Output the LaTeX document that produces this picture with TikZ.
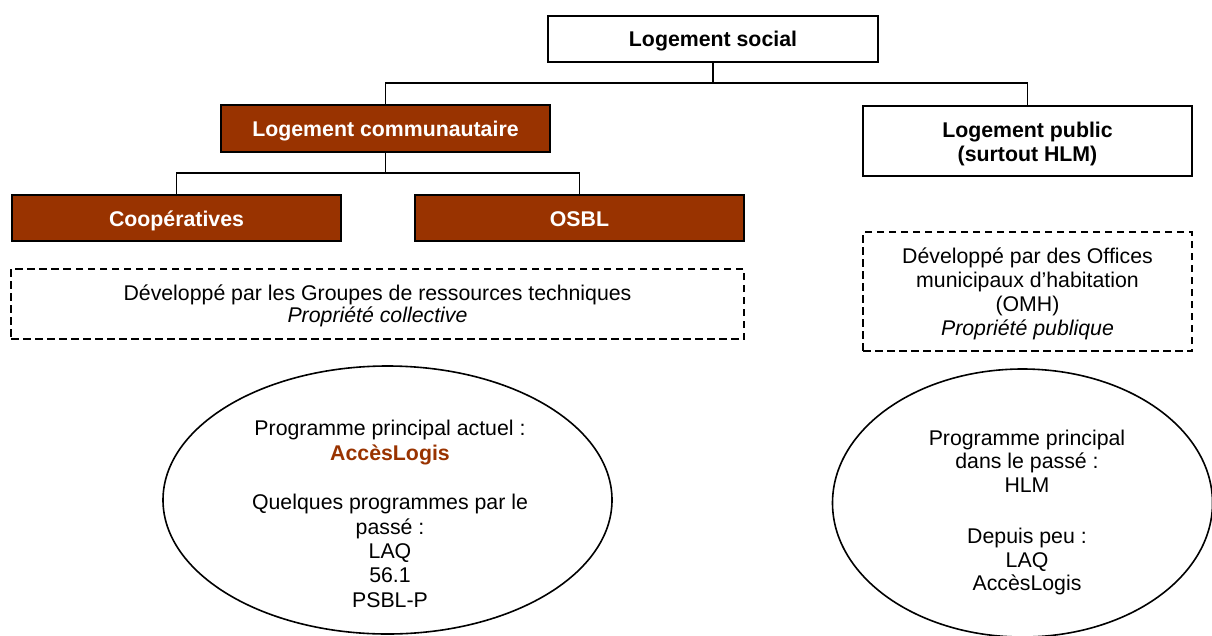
\documentclass[tikz,border=0pt]{standalone}
\usepackage{fontspec}
\setmainfont{Liberation Sans}
\usetikzlibrary{shapes.geometric}
\definecolor{brique}{HTML}{993300}
% centred lines of text, set slightly below the optical centre of their box
\newcommand\droptext[1]{\raisebox{-3.3pt}[\height][\depth]{\begin{tabular}{@{}c@{}}#1\end{tabular}}}
\begin{document}
\begin{tikzpicture}[x=1pt,y=-1pt,
  txt/.style={font=\fontsize{21.3}{24}\selectfont, align=center, inner sep=0pt},
  plainbox/.style={draw=black, line width=2pt, fill=white, minimum width=329pt, inner sep=0pt,
                   font=\fontsize{21.3}{24}\selectfont\bfseries},
  brownbox/.style={plainbox, fill=brique, text=white},
  dashbox/.style={draw=black, line width=1.6pt, dash pattern=on 7.5pt off 4.5pt, inner sep=0pt,
                  font=\fontsize{21.3}{24}\selectfont},
  oval/.style={ellipse, draw=black, line width=1.6pt, inner sep=0pt},
  link/.style={draw=black, line width=1.5pt}
]
\useasboundingbox (0,0) rectangle (1212,635);

% hierarchy boxes
\node[plainbox, minimum width=330pt, minimum height=46pt] (social) at (713,38.5) {\droptext{Logement social}};
\node[brownbox, minimum height=47pt] (commu) at (385.5,128.5) {\droptext{Logement communautaire}};
\node[plainbox, minimum height=70pt] (public) at (1027.5,141) {\droptext{Logement public\\(surtout HLM)}};
\node[brownbox, minimum height=46pt] (coop) at (176.5,218) {\droptext{Coopératives}};
\node[brownbox, minimum height=46pt] (osbl) at (579.5,218) {\droptext{OSBL}};

% connectors
\coordinate (bus1) at (713,83);
\coordinate (bus2) at (385.5,173);
\draw[link] (social.south) -- (bus1);
\draw[link] (commu.north) |- (bus1) -| (public.north);
\draw[link] (commu.south) -- (bus2);
\draw[link] (coop.north) |- (bus2) -| (osbl.north);

% dashed description boxes
\node[dashbox, minimum width=733pt, minimum height=70pt, font=\fontsize{21.3}{22}\selectfont] (gdash) at (377.5,304)
  {\droptext{Développé par les Groupes de ressources techniques\\\textit{Propriété collective}}};
\node[dashbox, minimum width=329pt, minimum height=119pt] (pdash) at (1027.5,291.5)
  {\droptext{Développé par des Offices\\municipaux d’habitation\\(OMH)\\\textit{Propriété publique}}};

% program ellipses
\node[oval, minimum width=449pt, minimum height=268pt] (lell) at (387.5,500) {};
\node[txt, font=\fontsize{21.3}{24.4}\selectfont] (ltext) at (390,514)
  {Programme principal actuel :\\\textcolor{brique}{\bfseries AccèsLogis}\\[25pt]Quelques programmes par le\\passé :\\LAQ\\56.1\\PSBL-P};
\node[oval, minimum width=380pt, minimum height=268pt] (rell) at (1022.5,503) {};
\node[txt, font=\fontsize{21.3}{23.4}\selectfont] (rtext) at (1027,512.5)
  {Programme principal\\dans le passé :\\HLM\\[28pt]Depuis peu :\\LAQ\\AccèsLogis};
\end{tikzpicture}
\end{document}
